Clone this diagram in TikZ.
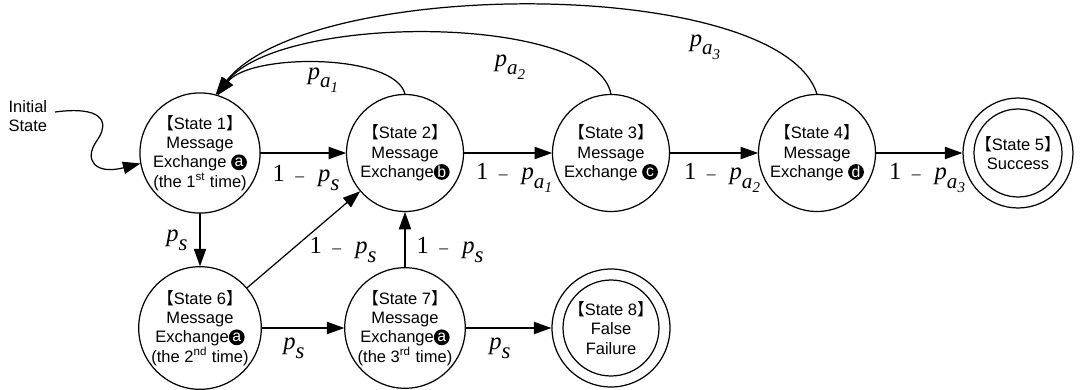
\documentclass[tikz,border=0pt]{standalone}
\usepackage{fontspec}
\setmainfont{Liberation Sans}
\newfontfamily\cjk{Noto Sans CJK SC}
\newfontfamily\lbf{Liberation Serif}
\usetikzlibrary{arrows.meta}

\newcommand\brk[1]{{\cjk【}#1{\cjk】}}
\newcommand\mk[1]{\tikz[baseline=-3.2pt]\node[circle,draw=none,fill=black,text=white,inner sep=0pt,outer sep=0pt,minimum size=9pt,font=\fontsize{9}{9}\selectfont]{#1};}
\newcommand\pr[1]{\textit{p}\raisebox{-5pt}{\fontsize{13}{13}\selectfont\textit{#1}}}
\newcommand\pa[1]{\textit{p}\raisebox{-5pt}{\fontsize{12}{12}\selectfont\textit{a}\raisebox{-2.5pt}{\fontsize{8.5}{8.5}\selectfont\textit{#1}}}}
\newcommand\om{1\hspace{6pt}{\fontsize{10}{10}\selectfont –}\hspace{8pt}}

\begin{document}
\begin{tikzpicture}[x=.02cm,y=-.02cm,font=\fontsize{9.4}{11}\selectfont,line width=.7pt,
  state/.style={circle,draw,minimum size=2.34cm,inner sep=0pt,align=center},
  prob/.style={font=\lbf\fontsize{14}{14}\selectfont,inner sep=0pt},
  >={Triangle[length=10pt,width=7pt]}]
\path[use as bounding box] (0,0) rectangle (1082,389);
\node[state] (s1) at (200,153) {\brk{State 1}\\Message\\Exchange \mk{a}\\(the 1\textsuperscript{st} time)};
\node[state] (s2) at (405,153) {\brk{State 2}\\Message\\Exchange\mk{b}};
\node[state] (s3) at (611,153) {\brk{State 3}\\Message\\Exchange \mk{c}};
\node[state] (s4) at (817,153) {\brk{State 4}\\Message\\Exchange \mk{d}};
\node[state,minimum size=2.2cm] (s5) at (1018,153) {\brk{State 5}\\Success};
\node[state] (s6) at (200,328) {\brk{State 6}\\Message\\Exchange\mk{a}\\(the 2\textsuperscript{nd} time)};
\node[state] (s7) at (405,328) {\brk{State 7}\\Message\\Exchange\mk{a}\\(the 3\textsuperscript{rd} time)};
\node[state,minimum size=2.36cm] (s8) at (611,328) {\brk{State 8}\\False\\Failure};
\draw (s5) circle (.88cm);
\draw (s8) circle (.96cm);
\node[anchor=west,align=left,inner sep=0pt] (init) at (8,116) {Initial\\State};
\coordinate (i0) at (55,112);
\draw[->] (i0) .. controls (100,106) and (112,120) .. (96,142) .. controls (84,160) and (95,175) .. (s1.190);
\foreach \a/\b in {s1/s2,s2/s3,s3/s4,s4/s5,s1/s6,s6/s7,s7/s8,s6/s2,s7/s2}{\draw[->] (\a) -- (\b);}
\draw[->] (s2.90) .. controls (395,53) and (250,53) .. (s1.73);
\draw[->] (s3.90) .. controls (595,13) and (280,13) .. (s1.74);
\draw[->] (s4.90) .. controls (780,-24) and (309,-24) .. (s1.75);
\node[prob] (l12) at (306,178) {\om\pr{s}};
\node[prob] (l23) at (514,178) {\om\pa{1}};
\node[prob] (l34) at (722,178) {\om\pa{2}};
\node[prob] (l45) at (927,178) {\om\pa{3}};
\node[prob] (l16) at (177,240) {\pr{s}};
\node[prob] (l62) at (343,250) {\om\pr{s}};
\node[prob] (l72) at (450,250) {\om\pr{s}};
\node[prob] (l67) at (294,348) {\pr{s}};
\node[prob] (l78) at (500,348) {\pr{s}};
\node[prob] (l21) at (323,80) {\pa{1}};
\node[prob] (l31) at (510,67) {\pa{2}};
\node[prob] (l41) at (705,47) {\pa{3}};
\end{tikzpicture}
\end{document}
